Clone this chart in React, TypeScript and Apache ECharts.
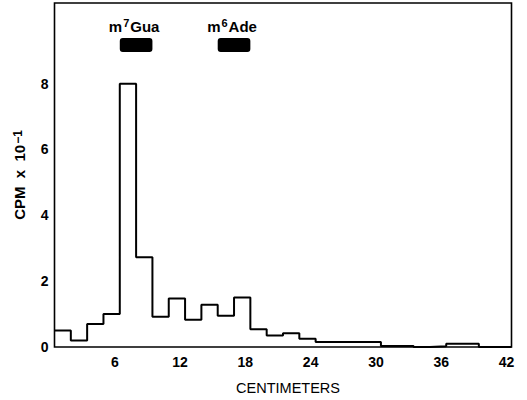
import React, { useEffect, useRef } from "react";
import * as echarts from "echarts";

// Bin left edges (cm) – last entry closes the final bin
const binEdges: number[] = [
  0, 1.5, 3, 4.5, 6, 7.5, 9, 10.5, 12, 13.5, 15, 16.5, 18, 19.5, 21, 22.5,
  24, 25.5, 27, 28.5, 30, 31.5, 33, 34.5, 36, 37.5, 39, 40.5, 42,
];
// CPM x 10^-1 per bin (last value repeats to close the step)
const cpmValues: number[] = [
  0.5, 0.2, 0.7, 1.0, 8.0, 2.73, 0.92, 1.47, 0.83, 1.28, 0.95, 1.5, 0.54,
  0.35, 0.42, 0.25, 0.15, 0.15, 0.15, 0.15, 0.03, 0.03, 0, 0.02, 0.1, 0.1, 0,
  0, 0,
];
const xTickLabels: number[] = [6, 12, 18, 24, 30, 36, 42];
const yTickLabels: number[] = [0, 2, 4, 6, 8];

// Marker bars (reference compounds)
const markerLabels: string[] = ["m{sup|7}Gua", "m{sup|6}Ade"];
const markerStart: number[] = [6, 15];
const markerEnd: number[] = [9, 18];
const markerBottom: number[] = [8.96, 8.96];
const markerTop: number[] = [9.39, 9.39];

const FONT = "'Liberation Sans', Arial, Helvetica, sans-serif";

export default function App() {
  const ref = useRef<HTMLDivElement>(null);
  useEffect(() => {
    if (!ref.current) return;
    const chart = echarts.init(ref.current, undefined, { renderer: "svg" });
    const lineData = binEdges.map((x, i) => [x, cpmValues[i]]);
    const markerData = markerStart.map((s, i) => [
      s,
      markerEnd[i],
      markerBottom[i],
      markerTop[i],
    ]);
    chart.setOption({
      animation: false,
      backgroundColor: "#fff",
      grid: {
        left: 54.5,
        right: 15.5,
        top: 3,
        bottom: 51,
        show: true,
        borderColor: "#000",
        borderWidth: 1.6,
        backgroundColor: "transparent",
      },
      xAxis: {
        type: "value",
        min: 0,
        max: 42,
        interval: 6,
        name: "CENTIMETERS",
        nameLocation: "middle",
        nameGap: 33,
        nameTextStyle: {
          fontFamily: FONT,
          fontSize: 14.5,
          color: "#000",
          padding: [0, 0, 0, 10],
        },
        axisLine: { show: false },
        axisTick: { show: false },
        splitLine: { show: false },
        axisLabel: {
          fontFamily: FONT,
          fontSize: 14,
          fontWeight: "bold",
          color: "#000",
          margin: 8,
          padding: [0, 10, 0, 0],
          formatter: (v: number) =>
            xTickLabels.indexOf(v) >= 0 ? String(v) : "",
        },
      },
      yAxis: {
        type: "value",
        min: 0,
        max: 10.45,
        interval: 2,
        name: "CPM  x  10{sup|−1}",
        nameLocation: "middle",
        nameGap: 28,
        nameTextStyle: {
          fontFamily: FONT,
          fontSize: 15,
          fontWeight: "bold",
          color: "#000",
          padding: [0, 0, 0, 0],
          rich: {
            sup: {
              fontFamily: FONT,
              fontSize: 12,
              fontWeight: "bold",
              color: "#000",
              verticalAlign: "top",
              lineHeight: 11,
              padding: [0, 0, 0, 1],
            },
          },
        },
        axisLine: { show: false },
        axisTick: { show: false },
        splitLine: { show: false },
        axisLabel: {
          fontFamily: FONT,
          fontSize: 14,
          fontWeight: "bold",
          color: "#000",
          margin: 6,
          formatter: (v: number) =>
            yTickLabels.indexOf(v) >= 0 ? String(v) : "",
        },
      },
      series: [
        {
          type: "line",
          step: "end",
          data: lineData,
          symbol: "none",
          lineStyle: { color: "#000", width: 2 },
          clip: false,
        },
        {
          type: "custom",
          data: markerData,
          clip: false,
          renderItem: (params: any, api: any) => {
            const tl = api.coord([api.value(0), api.value(3)]);
            const br = api.coord([api.value(1), api.value(2)]);
            return {
              type: "group",
              children: [
                {
                  type: "rect",
                  shape: {
                    x: tl[0],
                    y: tl[1],
                    width: br[0] - tl[0],
                    height: br[1] - tl[1],
                    r: 3,
                  },
                  style: { fill: "#000" },
                },
                {
                  type: "text",
                  x: (tl[0] + br[0]) / 2 - 2,
                  y: tl[1] - 3,
                  style: {
                    text: markerLabels[params.dataIndex],
                    fill: "#000",
                    fontFamily: FONT,
                    fontSize: 15,
                    fontWeight: "bold",
                    align: "center",
                    verticalAlign: "bottom",
                    lineHeight: 17,
                    rich: {
                      sup: {
                        fontFamily: FONT,
                        fontSize: 11,
                        fontWeight: "bold",
                        fill: "#000",
                        verticalAlign: "top",
                        lineHeight: 11,
                        padding: [0, 1, 0, 1],
                      },
                    },
                  },
                },
              ],
            };
          },
        },
      ],
    });
    return () => chart.dispose();
  }, []);
  return (
    <div
      ref={ref}
      style={{ position: "fixed", left: 0, top: 0, width: 527, height: 400 }}
    />
  );
}
